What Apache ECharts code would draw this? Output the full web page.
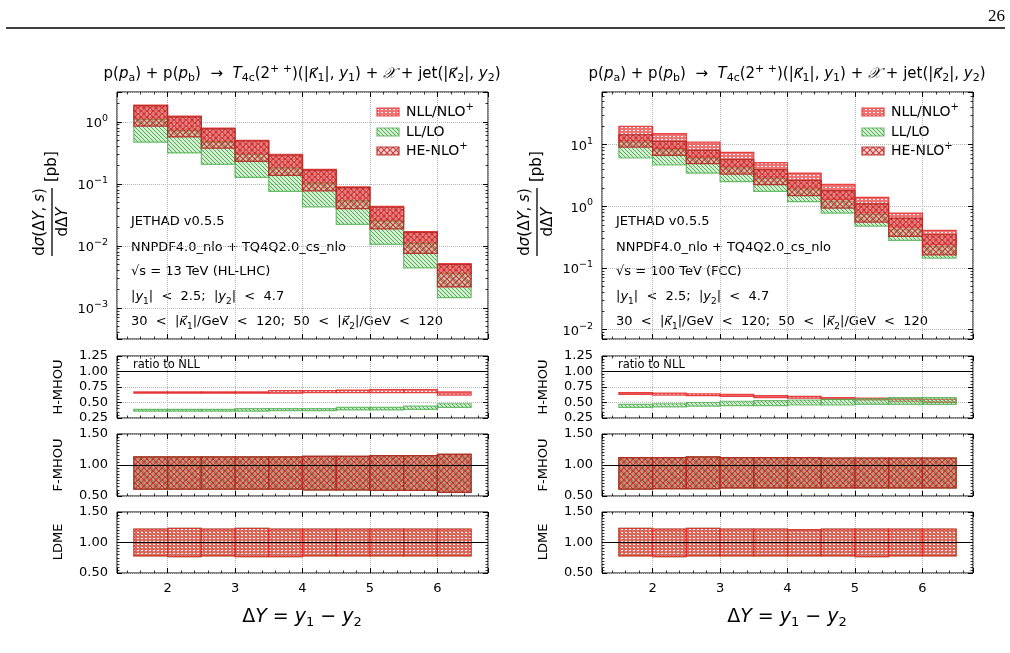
<!DOCTYPE html>
<html>
<head>
<meta charset="utf-8">
<script src="https://cdn.jsdelivr.net/npm/echarts@6/dist/echarts.min.js"></script>
<style>
  html, body { margin: 0; padding: 0; background: #fff; }
  #main { width: 1010px; height: 653px; }
</style>
</head>
<body>
<div id="main"></div>
<script type="text/javascript">
// bins in Delta Y
var binLo = [1.5, 2.0, 2.5, 3.0, 3.5, 4.0, 4.5, 5.0, 5.5, 6.0];
var binHi = [2.0, 2.5, 3.0, 3.5, 4.0, 4.5, 5.0, 5.5, 6.0, 6.5];

// 13 TeV (HL-LHC), cross section bands [pb]
var lhcNllHi = [1.86, 1.24, 0.79, 0.50, 0.30, 0.171, 0.0898, 0.0432, 0.0170, 0.00521];
var lhcNllLo = [1.09, 0.72, 0.474, 0.30, 0.18, 0.103, 0.0532, 0.0253, 0.0110, 0.00359];
var lhcHeHi  = [1.80, 1.20, 0.77, 0.49, 0.29, 0.166, 0.0870, 0.0420, 0.0165, 0.00500];
var lhcHeLo  = [0.85, 0.57, 0.375, 0.231, 0.137, 0.0773, 0.0400, 0.0188, 0.00757, 0.00218];
var lhcLlHi  = [1.09, 0.72, 0.474, 0.30, 0.18, 0.103, 0.0532, 0.0253, 0.0110, 0.00359];
var lhcLlLo  = [0.47, 0.315, 0.206, 0.127, 0.0755, 0.0426, 0.0223, 0.0106, 0.00443, 0.00147];

// 100 TeV (FCC)
var fccNllHi = [19.8, 15.1, 11.0, 7.52, 5.11, 3.47, 2.27, 1.40, 0.78, 0.408];
var fccNllLo = [11.5, 8.7, 6.3, 4.37, 2.99, 1.98, 1.30, 0.785, 0.46, 0.24];
var fccHeHi  = [14.5, 11.3, 8.09, 5.71, 3.93, 2.64, 1.80, 1.10, 0.647, 0.347];
var fccHeLo  = [9.16, 6.71, 4.92, 3.34, 2.25, 1.49, 0.94, 0.557, 0.327, 0.164];
var fccLlHi  = [11.0, 8.3, 6.0, 4.2, 2.85, 1.9, 1.22, 0.74, 0.43, 0.225];
var fccLlLo  = [6.08, 4.68, 3.47, 2.51, 1.75, 1.19, 0.78, 0.48, 0.281, 0.145];

// ratio panels
var lhcHmhouHeHi = [0.67, 0.67, 0.67, 0.67, 0.69, 0.69, 0.70, 0.71, 0.71, 0.67];
var lhcHmhouHeLo = [0.65, 0.65, 0.65, 0.65, 0.65, 0.66, 0.66, 0.66, 0.66, 0.62];
var lhcHmhouLlHi = [0.39, 0.39, 0.39, 0.40, 0.40, 0.40, 0.42, 0.42, 0.44, 0.48];
var lhcHmhouLlLo = [0.36, 0.36, 0.36, 0.36, 0.37, 0.37, 0.38, 0.38, 0.39, 0.42];
var lhcFmhouHi = [1.13, 1.13, 1.13, 1.13, 1.13, 1.14, 1.14, 1.15, 1.15, 1.17];
var lhcFmhouLo = [0.61, 0.61, 0.61, 0.61, 0.61, 0.60, 0.60, 0.59, 0.59, 0.56];
var lhcLdmeHi = [1.22, 1.23, 1.22, 1.23, 1.22, 1.22, 1.22, 1.22, 1.22, 1.22];
var lhcLdmeLo = [0.78, 0.77, 0.78, 0.77, 0.77, 0.78, 0.78, 0.78, 0.78, 0.78];

var fccHmhouHeHi = [0.66, 0.65, 0.64, 0.63, 0.61, 0.60, 0.58, 0.57, 0.56, 0.55];
var fccHmhouHeLo = [0.63, 0.62, 0.61, 0.60, 0.58, 0.57, 0.55, 0.54, 0.52, 0.50];
var fccHmhouLlHi = [0.47, 0.48, 0.50, 0.52, 0.53, 0.54, 0.55, 0.56, 0.58, 0.58];
var fccHmhouLlLo = [0.42, 0.43, 0.44, 0.45, 0.45, 0.46, 0.46, 0.47, 0.47, 0.47];
var fccFmhouHi = [1.12, 1.12, 1.13, 1.12, 1.12, 1.12, 1.11, 1.11, 1.11, 1.11];
var fccFmhouLo = [0.61, 0.62, 0.62, 0.63, 0.63, 0.63, 0.63, 0.63, 0.63, 0.63];
var fccLdmeHi = [1.23, 1.22, 1.23, 1.22, 1.22, 1.21, 1.22, 1.22, 1.22, 1.22];
var fccLdmeLo = [0.78, 0.77, 0.78, 0.78, 0.78, 0.78, 0.78, 0.77, 0.78, 0.78];

var FONT = 'DejaVu Sans';

function makePattern(w, h, draw) {
  var c = document.createElement('canvas');
  c.width = w; c.height = h;
  draw(c.getContext('2d'), w, h);
  return { image: c, repeat: 'repeat' };
}
var nllFill = makePattern(4, 3, function (ctx) {
  ctx.fillStyle = 'rgba(232,60,60,0.72)';
  ctx.fillRect(0, 0, 4, 3);
  ctx.fillStyle = 'rgba(255,255,255,0.95)';
  ctx.fillRect(1, 1, 2, 1);
});
var llFill = makePattern(4, 4, function (ctx) {
  ctx.fillStyle = 'rgba(150,215,150,0.4)';
  ctx.fillRect(0, 0, 4, 4);
  ctx.strokeStyle = 'rgba(60,165,60,0.9)';
  ctx.lineWidth = 1;
  ctx.beginPath();
  ctx.moveTo(-1, -1); ctx.lineTo(5, 5);
  ctx.moveTo(-1, 3); ctx.lineTo(1, 5);
  ctx.moveTo(3, -1); ctx.lineTo(5, 1);
  ctx.stroke();
});
var heFill = makePattern(6, 6, function (ctx) {
  ctx.fillStyle = 'rgba(235,120,120,0.35)';
  ctx.fillRect(0, 0, 6, 6);
  ctx.strokeStyle = 'rgba(190,35,35,0.85)';
  ctx.lineWidth = 1.1;
  ctx.beginPath();
  ctx.moveTo(0, 0); ctx.lineTo(6, 6);
  ctx.moveTo(6, 0); ctx.lineTo(0, 6);
  ctx.stroke();
});
var nllEdge = 'rgba(228,40,40,0.85)';
var llEdge = 'rgba(80,175,80,0.8)';
var heEdge = 'rgba(180,40,35,0.9)';

var myChart = echarts.init(document.getElementById('main'));

function band(g, lo, hi, fill, stroke, z, extra) {
  var s = {
    type: 'custom', xAxisIndex: 2 * g, yAxisIndex: 2 * g, z: z, silent: true, clip: true,
    data: binLo.map(function (x, k) { return [x, binHi[k], lo[k], hi[k]]; }),
    encode: { x: [0, 1], y: [2, 3] },
    renderItem: function (params, api) {
      var a = api.coord([api.value(0), api.value(3)]);
      var b = api.coord([api.value(1), api.value(2)]);
      return {
        type: 'rect',
        shape: { x: a[0], y: a[1], width: b[0] - a[0], height: b[1] - a[1] },
        style: { fill: fill, stroke: stroke, lineWidth: 1.2 }
      };
    }
  };
  if (extra) s.markLine = extra;
  return s;
}
var oneLine = {
  silent: true, symbol: 'none', label: { show: false },
  lineStyle: { color: '#000', type: 'solid', width: 1 },
  data: [{ yAxis: 1 }]
};

// grids: left column then right column
var lefts = [117, 602];
var rows = [[92, 247], [356, 62], [434, 62], [512, 61]];
var grids = [], xAxes = [], yAxes = [];
lefts.forEach(function (l, c) {
  rows.forEach(function (r, k) {
    var g = c * 4 + k;
    grids.push({ left: l, top: r[0], width: 371, height: r[1], show: true,
      borderColor: '#000', borderWidth: 1, backgroundColor: 'transparent' });
    var tick = { show: true, inside: true, length: 5, lineStyle: { color: '#000', width: 1 } };
    var minor = { show: true, splitNumber: 5, length: 2.5, lineStyle: { color: '#000', width: 0.8 } };
    xAxes.push({ type: 'value', gridIndex: g, min: 1.25, max: 6.75, splitNumber: 5, position: 'bottom',
      axisLine: { show: false }, axisTick: tick, minorTick: minor,
      splitLine: { show: true, lineStyle: { type: 'dotted', color: '#b5b5b5', width: 1 } },
      axisLabel: { show: k === 3, showMinLabel: false, showMaxLabel: false, margin: 9,
        fontFamily: FONT, fontSize: 13, color: '#000' } });
    xAxes.push({ type: 'value', gridIndex: g, min: 1.25, max: 6.75, splitNumber: 5, position: 'top',
      axisLine: { show: false }, axisTick: tick, minorTick: minor,
      splitLine: { show: false }, axisLabel: { show: false } });
    var y;
    if (k === 0) {
      var mn = c === 0 ? Math.pow(10, -3.5) : Math.pow(10, -2.15);
      var mx = c === 0 ? Math.pow(10, 0.48) : Math.pow(10, 1.854);
      y = { type: 'log', logBase: 10, min: mn, max: mx,
        axisLabel: {
          showMinLabel: false, showMaxLabel: false, margin: 9,
          formatter: function (v) {
            var e = Math.log10(v), r = Math.round(e);
            if (Math.abs(e - r) > 1e-6) return '';
            return '{b|10}{s|' + (r < 0 ? '\u2212' + (-r) : r) + '}';
          },
          rich: {
            b: { fontFamily: FONT, fontSize: 13, color: '#000', lineHeight: 17, verticalAlign: 'bottom' },
            s: { fontFamily: FONT, fontSize: 9.5, color: '#000', lineHeight: 10, verticalAlign: 'top' }
          }
        },
        minorTick: { show: true, splitNumber: 9, length: 2.5, lineStyle: { color: '#000', width: 0.8 } } };
    } else if (k === 1) {
      y = { type: 'value', min: 0.25, max: 1.25, interval: 0.25,
        minorTick: { show: true, splitNumber: 5, length: 2.5, lineStyle: { color: '#000', width: 0.8 } },
        axisLabel: { margin: 9, formatter: function (v) { return v.toFixed(2); } } };
    } else {
      y = { type: 'value', min: 0.5, max: 1.5, interval: 0.5,
        minorTick: { show: true, splitNumber: 10, length: 2.5, lineStyle: { color: '#000', width: 0.8 } },
        axisLabel: { margin: 9, formatter: function (v) { return v.toFixed(2); } } };
    }
    var yl = Object.assign({}, y, { gridIndex: g, position: 'left', axisLine: { show: false }, axisTick: tick,
      splitLine: { show: true, lineStyle: { type: 'dotted', color: '#b5b5b5', width: 1 } } });
    yl.axisLabel = Object.assign({ fontFamily: FONT, fontSize: 13, color: '#000' }, y.axisLabel);
    var yr = Object.assign({}, y, { gridIndex: g, position: 'right', axisLine: { show: false }, axisTick: tick,
      splitLine: { show: false }, axisLabel: { show: false } });
    yAxes.push(yl, yr);
  });
});

var series = [
  // left main
  band(0, lhcNllLo, lhcNllHi, nllFill, nllEdge, 2),
  band(0, lhcLlLo, lhcLlHi, llFill, llEdge, 3),
  band(0, lhcHeLo, lhcHeHi, heFill, heEdge, 4),
  band(1, lhcHmhouHeLo, lhcHmhouHeHi, nllFill, nllEdge, 3, oneLine),
  band(1, lhcHmhouLlLo, lhcHmhouLlHi, llFill, llEdge, 3),
  band(2, lhcFmhouLo, lhcFmhouHi, nllFill, nllEdge, 2, oneLine),
  band(2, lhcFmhouLo, lhcFmhouHi, llFill, llEdge, 3),
  band(2, lhcFmhouLo, lhcFmhouHi, heFill, heEdge, 4),
  band(3, lhcLdmeLo, lhcLdmeHi, llFill, llEdge, 2, oneLine),
  band(3, lhcLdmeLo, lhcLdmeHi, nllFill, nllEdge, 3),
  // right main
  band(4, fccNllLo, fccNllHi, nllFill, nllEdge, 2),
  band(4, fccLlLo, fccLlHi, llFill, llEdge, 3),
  band(4, fccHeLo, fccHeHi, heFill, heEdge, 4),
  band(5, fccHmhouHeLo, fccHmhouHeHi, nllFill, nllEdge, 3, oneLine),
  band(5, fccHmhouLlLo, fccHmhouLlHi, llFill, llEdge, 3),
  band(6, fccFmhouLo, fccFmhouHi, nllFill, nllEdge, 2, oneLine),
  band(6, fccFmhouLo, fccFmhouHi, llFill, llEdge, 3),
  band(6, fccFmhouLo, fccFmhouHi, heFill, heEdge, 4),
  band(7, fccLdmeLo, fccLdmeHi, llFill, llEdge, 2, oneLine),
  band(7, fccLdmeLo, fccLdmeHi, nllFill, nllEdge, 3)
];

function rich(size) {
  var sub = Math.round(size * 0.7);
  return {
    n: { fontFamily: FONT, fontSize: size, color: '#000', lineHeight: size + 5 },
    i: { fontFamily: FONT, fontSize: size, fontStyle: 'italic', color: '#000', lineHeight: size + 5 },
    sb: { fontFamily: FONT, fontSize: sub, color: '#000', lineHeight: sub + 1, verticalAlign: 'bottom' },
    sp: { fontFamily: FONT, fontSize: sub, color: '#000', lineHeight: sub + 1, verticalAlign: 'top' }
  };
}
function txt(x, y, text, size, align, extra) {
  var st = { text: text, x: x, y: y, rich: rich(size), fontFamily: FONT, fontSize: size, fill: '#000',
    align: align || 'left', textAlign: align || 'left', verticalAlign: 'middle', textVerticalAlign: 'middle' };
  return Object.assign({ type: 'text', silent: true, style: st }, extra || {});
}

var titleText = '{n|p(}{i|p}{sb|a}{n|) + p(}{i|p}{sb|b}{n|)  \u2192  }{i|T}{sb|4c}{n|(2}{sp|+ +}{n|)(|}{i|\u03ba\u20d7}{sb|1}{n||, }{i|y}{sb|1}{n|) + }{i|\ud835\udcb3}{n| + jet(|}{i|\u03ba\u20d7}{sb|2}{n||, }{i|y}{sb|2}{n|)}';
var infoLines = [
  '{n|JETHAD v0.5.5}',
  '{n|NNPDF4.0_nlo + TQ4Q2.0_cs_nlo}',
  null,
  '{n||}{i|y}{sb|1}{n||  <  2.5;  |}{i|y}{sb|2}{n||  <  4.7}',
  '{n|30  <  |}{i|\u03ba\u20d7}{sb|1}{n||/GeV  <  120;  50  <  |}{i|\u03ba\u20d7}{sb|2}{n||/GeV  <  120}'
];
var energyText = ['{n|\u221as = 13 TeV (HL-LHC)}', '{n|\u221as = 100 TeV (FCC)}'];
var infoY = [222, 248, 272, 297, 322];
var legendNames = ['{n|NLL/NLO}{sp|+}', '{n|LL/LO}', '{n|HE-NLO}{sp|+}'];
var legendFills = [nllFill, llFill, heFill];
var legendEdges = [nllEdge, llEdge, heEdge];
var legendY = [112, 132, 151];
var ratioNames = ['H-MHOU', 'F-MHOU', 'LDME'];
var ratioY = [387, 465, 542];

var graphic = [
  { type: 'line', silent: true, shape: { x1: 6, y1: 28, x2: 1005, y2: 28 }, style: { stroke: '#000', lineWidth: 1.5 } },
  { type: 'text', silent: true, style: { text: '26', x: 1005, y: 17, align: 'right', textAlign: 'right',
    verticalAlign: 'middle', textVerticalAlign: 'middle', font: '17px "Liberation Serif"', fill: '#000' } }
];
[0, 1].forEach(function (c) {
  var dx = c === 0 ? 0 : 485;
  graphic.push(txt(302 + dx, 74, titleText, 15, 'center'));
  infoLines.forEach(function (t, k) {
    graphic.push(txt(131 + dx, infoY[k], t === null ? energyText[c] : t, 13, 'left'));
  });
  legendNames.forEach(function (t, k) {
    graphic.push({ type: 'rect', silent: true, shape: { x: 377 + dx, y: legendY[k] - 4, width: 22, height: 8 },
      style: { fill: legendFills[k], stroke: legendEdges[k], lineWidth: 1.2 } });
    graphic.push(txt(406 + dx, legendY[k], t, 14, 'left'));
  });
  graphic.push(txt(133 + dx, 365, '{n|ratio to NLL}', 11.5, 'left'));
  ratioNames.forEach(function (t, k) {
    graphic.push(txt(59 + dx, ratioY[k], '{n|' + t + '}', 13, 'center', { rotation: Math.PI / 2, x: 0, y: 0 }));
  });
  graphic.push(txt(302 + dx, 617, '{b|\u0394}{bi|Y}{b| = }{bi|y}{bs|1}{b| \u2212 }{bi|y}{bs|2}', 18, 'center'));
  graphic[graphic.length - 1].style.rich = {
    b: { fontFamily: FONT, fontSize: 19, color: '#000', lineHeight: 24 },
    bi: { fontFamily: FONT, fontSize: 19, fontStyle: 'italic', color: '#000', lineHeight: 24 },
    bs: { fontFamily: FONT, fontSize: 13, color: '#000', lineHeight: 14, verticalAlign: 'bottom' }
  };
  // y axis label of main panel (fraction)
  graphic.push({ type: 'group', x: 52 + dx, y: 222, rotation: Math.PI / 2, silent: true, children: [
    { type: 'text', style: { text: '{n|d}{i|\u03c3}{n|(\u0394}{i|Y}{n|, }{i|s}{n|)}', x: 0, y: -2, rich: rich(15),
      align: 'center', textAlign: 'center', verticalAlign: 'bottom', textVerticalAlign: 'bottom' } },
    { type: 'line', shape: { x1: -34, y1: 0, x2: 34, y2: 0 }, style: { stroke: '#000', lineWidth: 1.3 } },
    { type: 'text', style: { text: '{n|d\u0394}{i|Y}', x: 0, y: 1, rich: rich(15),
      align: 'center', textAlign: 'center', verticalAlign: 'top', textVerticalAlign: 'top' } },
    { type: 'text', style: { text: '{n|[pb]}', x: 40, y: 0, rich: rich(15),
      align: 'left', textAlign: 'left', verticalAlign: 'middle', textVerticalAlign: 'middle' } }
  ] });
});
// rotate ratio labels around their own position
graphic.forEach(function (g) {
  if (g.rotation && g.type === 'text') {
    g.x = g.style.x; g.y = g.style.y; g.style.x = 0; g.style.y = 0;
  }
});

var option = {
  animation: false,
  backgroundColor: '#fff',
  grid: grids,
  xAxis: xAxes,
  yAxis: yAxes,
  series: series,
  graphic: graphic
};
myChart.setOption(option);
</script>
</body>
</html>
